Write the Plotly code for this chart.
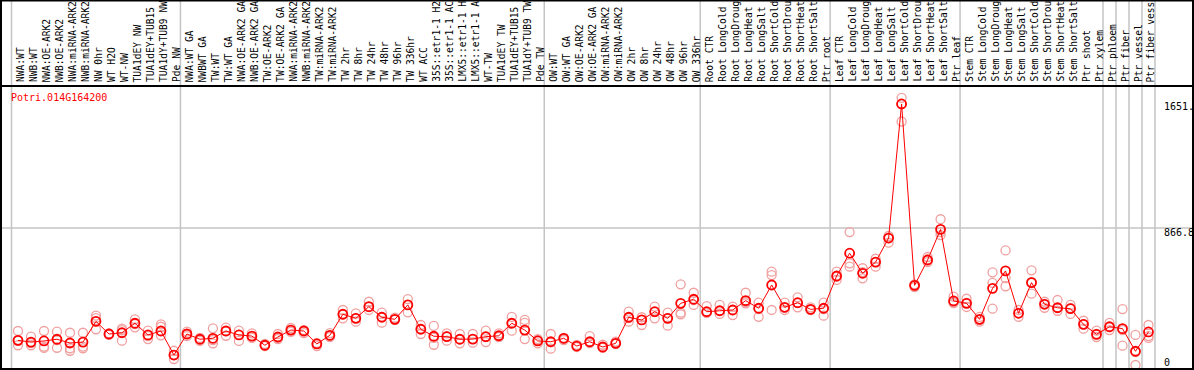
import plotly.graph_objects as go

categories = [
    "NWA:WT", "NWB:WT", "NWA:OE-ARK2", "NWB:OE-ARK2", "NWA:miRNA-ARK2", "NWB:miRNA-ARK2",
    "NW 0hr", "WT H2O", "WT-NW", "TUA1dEY NW", "TUA1dEY+TUB15 NW", "TUA1dY+TUB9 NW", "Pde NW",
    "NWA:WT GA", "NWBWT GA", "TW:WT", "TW:WT GA", "NWA:OE-ARK2 GA", "NWB:OE-ARK2 GA",
    "TW:OE-ARK2", "TW:OE-ARK2 GA", "NWA:miRNA-ARK2", "NWB:miRNA-ARK2", "TW:miRNA-ARK2",
    "TW:miRNA-ARK2", "TW 2hr", "TW 8hr", "TW 24hr", "TW 48hr", "TW 96hr", "TW 336hr",
    "WT ACC", "35S::etr1-1 H2O", "35S::etr1-1 ACC", "LMX5::etr1-1 H2O", "LMX5::etr1-1 ACC",
    "WT-TW", "TUA1dEY TW", "TUA1dEY+TUB15 TW", "TUA1dY+TUB9 TW", "Pde TW",
    "OW:WT", "OW:WT GA", "OW:OE-ARK2", "OW:OE-ARK2 GA", "OW:miRNA-ARK2", "OW:miRNA-ARK2",
    "OW 2hr", "OW 8hr", "OW 24hr", "OW 48hr", "OW 96hr", "OW 336hr",
    "Root CTR", "Root LongCold", "Root LongDrought", "Root LongHeat", "Root LongSalt",
    "Root ShortCold", "Root ShortDrought", "Root ShortHeat", "Root ShortSalt", "Ptr root",
    "Leaf CTR", "Leaf LongCold", "Leaf LongDrought", "Leaf LongHeat", "Leaf LongSalt",
    "Leaf ShortCold", "Leaf ShortDrought", "Leaf ShortHeat", "Leaf ShortSalt", "Ptr leaf",
    "Stem CTR", "Stem LongCold", "Stem LongDrought", "Stem LongHeat", "Stem LongSalt",
    "Stem ShortCold", "Stem ShortDrought", "Stem ShortHeat", "Stem ShortSalt",
    "Ptr shoot", "Ptr xylem", "Ptr phloem", "Ptr fiber", "Ptr vessel", "Ptr fiber vessel",
]

mean_values = [
    156, 145, 152, 163, 139, 145, 276, 196, 204, 264, 190, 215, 63,
    196, 163, 169, 215, 190, 183, 125, 177, 221, 215, 133, 188, 321, 295, 369, 302, 289, 380,
    226, 182, 179, 163, 164, 179, 185, 264, 221, 152,
    147, 169, 120, 147, 114, 137, 302, 285, 337, 295, 390, 416,
    337, 343, 348, 407, 359, 506, 365, 394, 352, 359,
    563, 707, 580, 651, 803, 1651, 504, 664, 858, 405,
    390, 289, 485, 595, 327, 521, 384, 362, 356,
    257, 194, 242, 230, 87, 209,
]

rep1 = [
    215, 179, 215, 211, 204, 204, 312, 200, 230, 289, 217, 257, 90,
    211, 171, 232, 236, 217, 200, 133, 196, 234, 221, 139, 202, 348, 327, 400, 331, 299, 417,
    253, 247, 200, 196, 196, 217, 200, 305, 285, 164,
    196, 171, 127, 183, 128, 147, 337, 302, 369, 331, 510, 457,
    373, 380, 369, 457, 394, 590, 394, 428, 365, 394,
    590, 841, 612, 672, 816, 1690, 510, 683, 922, 432,
    419, 304, 586, 725, 348, 599, 400, 411, 380,
    280, 217, 266, 354, 190, 253,
]

rep2 = [
    152, 139, 116, 158, 106, 116, 297, 196, 221, 259, 183, 242, 63,
    196, 163, 158, 215, 190, 183, 125, 171, 221, 215, 133, 183, 321, 297, 367, 304, 289, 380,
    228, 171, 183, 164, 164, 177, 179, 266, 266, 158,
    145, 164, 120, 145, 114, 137, 297, 285, 335, 297, 331, 411,
    331, 342, 348, 398, 354, 569, 361, 392, 352, 354,
    557, 643, 588, 651, 803, 1650, 500, 664, 841, 398,
    392, 285, 519, 550, 329, 525, 386, 361, 361,
    259, 196, 240, 221, 82, 183,
]

rep3 = [
    125, 125, 108, 109, 90, 106, 226, 190, 154, 238, 164, 188, 38,
    183, 152, 137, 185, 152, 171, 120, 164, 209, 202, 120, 177, 295, 274, 348, 268, 285, 333,
    196, 128, 154, 137, 141, 145, 177, 217, 164, 137,
    103, 158, 114, 139, 109, 133, 274, 253, 295, 249, 321, 380,
    329, 323, 316, 390, 305, 348, 348, 365, 348, 312,
    538, 622, 548, 622, 774, 1540, 493, 651, 822, 392,
    367, 274, 356, 498, 305, 451, 362, 343, 323,
    230, 177, 221, 122, 0, 171,
]

gene_name = "Potri.014G164200"
y_tick_values = [1651, 866.8, 0]
y_tick_texts = ["1651.", "866.8", "0"]
group_boundaries = [-0.5, 12.5, 40.5, 52.5, 62.5, 72.5, 83.5, 84.5, 85.5, 86.5, 87.5]
LABEL_CHARS = 14  # the header column only shows this many characters

W, H = 1194, 370
PX_PER_CAT = 12.994
X0_PX = 18.0
x_range = [-X0_PX / PX_PER_CAT, -X0_PX / PX_PER_CAT + W / PX_PER_CAT]
V_PER_PX = 6.325
y_range = [-(H - 365) * V_PER_PX, 365 * V_PER_PX]


def py(px):
    return 1 - px / H


xs = list(range(len(categories)))
fig = go.Figure()

light = "#F0A0A0"
for reps in (rep1, rep2, rep3):
    fig.add_trace(go.Scatter(
        x=xs, y=reps, mode="markers",
        marker=dict(symbol="circle-open", size=9, color=light, line=dict(width=1.3, color=light)),
        hoverinfo="skip", showlegend=False,
    ))

fig.add_trace(go.Scatter(
    x=xs, y=mean_values, mode="lines+markers",
    line=dict(color="#FF0000", width=1),
    marker=dict(symbol="circle-open", size=9, color="#FF0000", line=dict(width=1.8, color="#FF0000")),
    hoverinfo="skip", showlegend=False,
))

shapes = []
gray = "#C4C4C4"
for b in group_boundaries:
    shapes.append(dict(type="line", xref="x", yref="paper", x0=b, x1=b, y0=py(368), y1=1,
                       line=dict(color=gray, width=1.5), layer="below"))
shapes.append(dict(type="line", xref="paper", yref="y", x0=0, x1=1,
                   y0=y_tick_values[1], y1=y_tick_values[1],
                   line=dict(color=gray, width=1.5), layer="below"))
black = "#000000"
shapes += [
    dict(type="line", xref="paper", yref="paper", x0=0, x1=1, y0=py(86), y1=py(86), line=dict(color=black, width=2)),
    dict(type="line", xref="paper", yref="paper", x0=0, x1=1, y0=py(0.5), y1=py(0.5), line=dict(color=black, width=2)),
    dict(type="line", xref="paper", yref="paper", x0=0, x1=1, y0=py(369), y1=py(369), line=dict(color=black, width=2)),
    dict(type="line", xref="paper", yref="paper", x0=1 / W, x1=1 / W, y0=0, y1=1, line=dict(color=black, width=2)),
    dict(type="line", xref="paper", yref="paper", x0=1193 / W, x1=1193 / W, y0=0, y1=1, line=dict(color=black, width=2)),
]

mono = "DejaVu Sans Mono"
annotations = []
for i, lab in enumerate(categories):
    annotations.append(dict(
        x=i, y=py(84), xref="x", yref="paper", text=lab[:LABEL_CHARS], textangle=-90,
        xanchor="center", yanchor="bottom", xshift=2.5, showarrow=False,
        font=dict(family=mono, size=9.6, color="#000000"),
    ))
annotations.append(dict(
    x=9 / W, y=py(97), xref="paper", yref="paper", text=gene_name, xanchor="left", yanchor="middle",
    showarrow=False, font=dict(family=mono, size=10, color="#FF0000"),
))
label_px = [107, 232, 362]
for t, lp in zip(y_tick_texts, label_px):
    annotations.append(dict(
        x=1162 / W, y=py(lp), xref="paper", yref="paper", text=t, xanchor="left", yanchor="middle",
        showarrow=False, font=dict(family=mono, size=10, color="#000000"),
    ))

fig.update_layout(
    width=W, height=H, margin=dict(l=0, r=0, t=0, b=0),
    paper_bgcolor="white", plot_bgcolor="white",
    xaxis=dict(range=x_range, visible=False, fixedrange=True),
    yaxis=dict(range=y_range, visible=False, fixedrange=True),
    shapes=shapes, annotations=annotations, showlegend=False,
)

fig.write_html(
    "out.html",
    config={"displayModeBar": False},
    post_script="document.body.style.margin='0';document.body.style.overflow='hidden';",
)
